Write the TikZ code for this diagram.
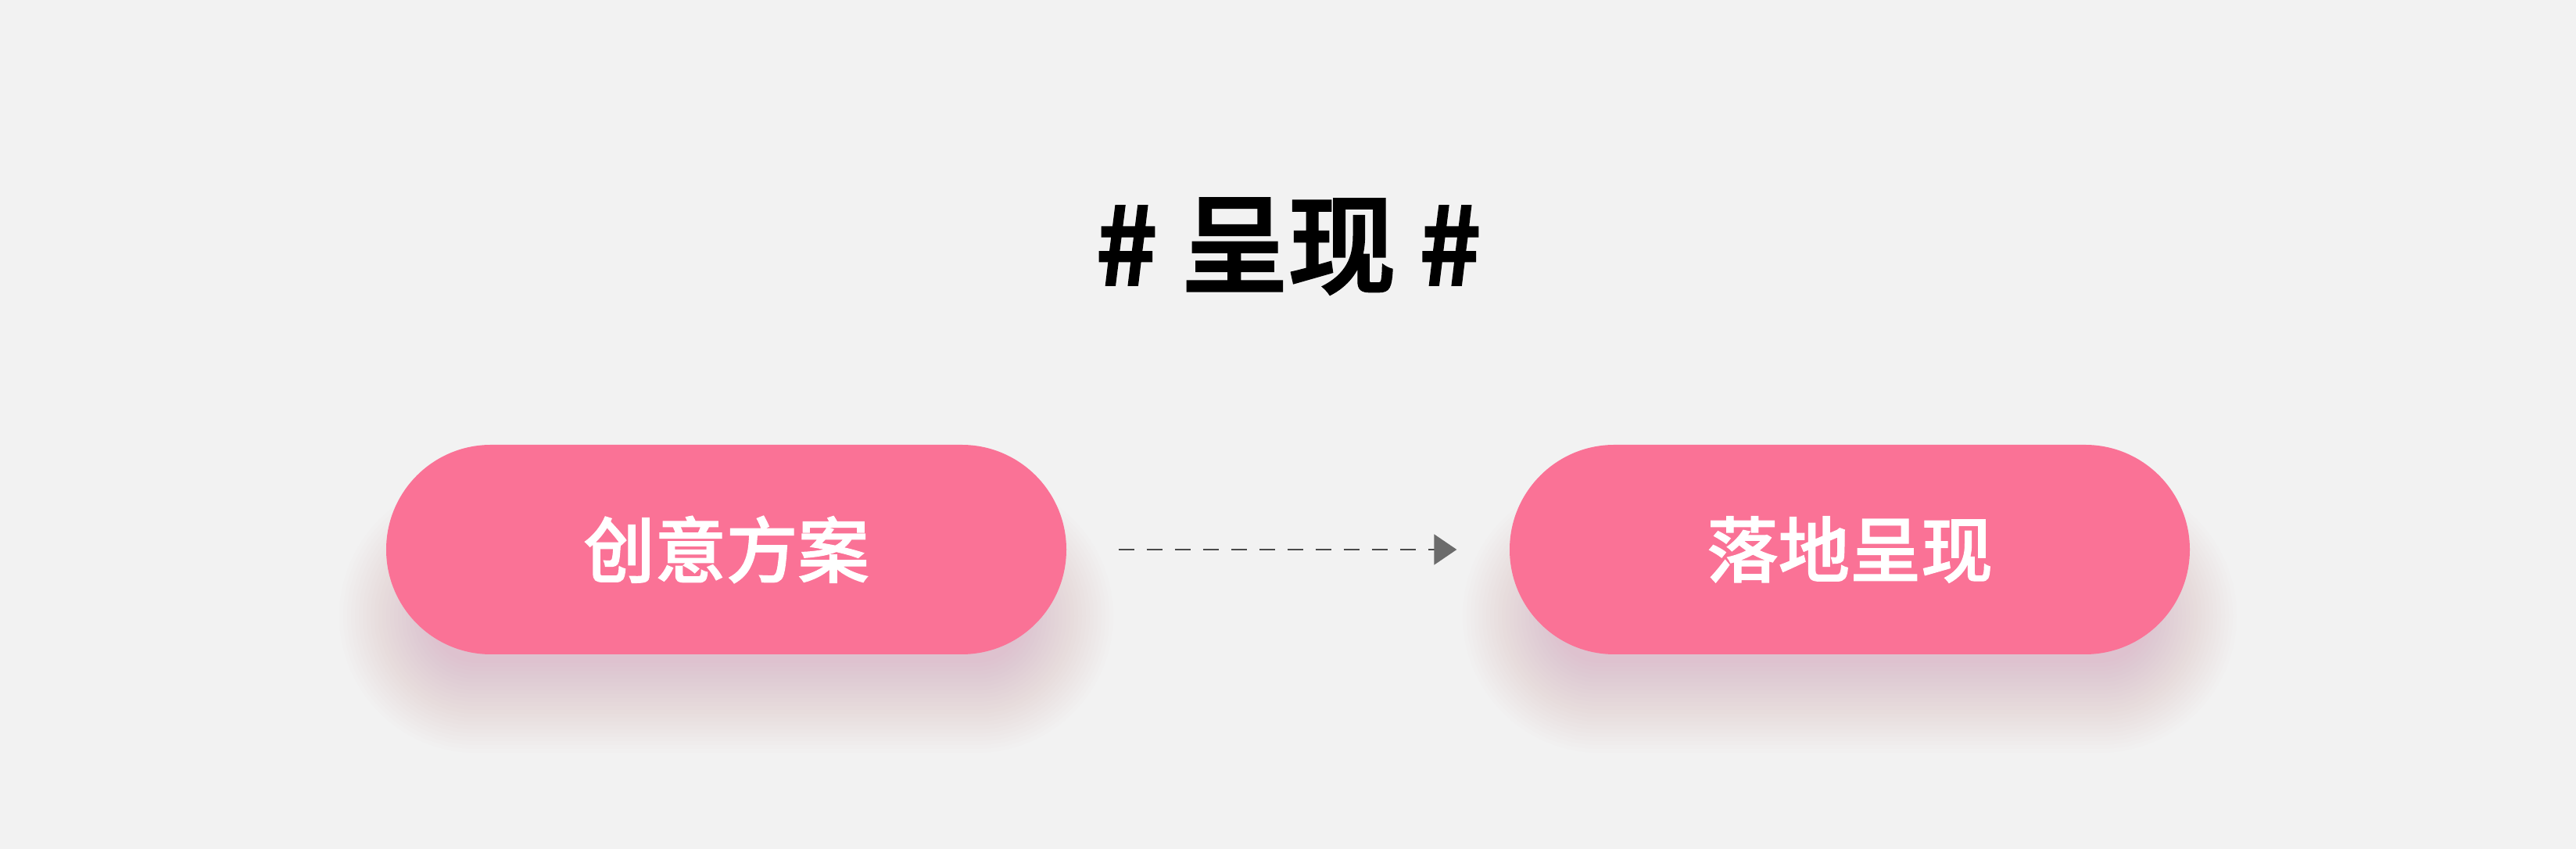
\documentclass[tikz,border=0pt]{standalone}
\usepackage{fontspec}
\usepackage{xcolor}
\newfontfamily\cjk[FakeBold=1.3]{Noto Sans CJK SC Medium}
\newfontfamily\cjktitle[FakeBold=2.6]{Noto Sans CJK SC Medium}
\usetikzlibrary{arrows.meta,calc}

\definecolor{bggray}{HTML}{F2F2F2}
\definecolor{pillpink}{HTML}{FA7296}
\definecolor{shadowpink}{RGB}{222,128,158}
\definecolor{dashgray}{HTML}{4A4A4A}
\definecolor{headgray}{HTML}{6B6B6B}

\tikzset{
  pill/.style={rectangle, rounded corners=1.34cm, fill=pillpink,
    minimum width=8.7cm, minimum height=2.68cm, inner sep=0pt,
    text=white, font=\cjk\fontsize{26}{26}\selectfont},
}

\begin{document}
\begin{tikzpicture}
    % Background and size of the page:
    \fill [bggray] (0,0) rectangle (32.95,10.86);
    \useasboundingbox (0,0) rectangle (32.95,10.86);

    % Centres of the two pills:
    \coordinate (c1) at (9.29,3.83);
    \coordinate (c2) at (23.66,3.83);

    % Soft pink shadows, drawn as stacked transparent pills:
    \foreach \c in {c1,c2}{%
        \foreach \r in {0,0.05,...,1.2}{%
            \pgfmathsetmacro\rad{0.6+\r}
            \fill [shadowpink, opacity=0.015, rounded corners=\rad cm]
                ($(\c)+(-3.8-\r,-0.85-\rad)$) rectangle ($(\c)+(3.8+\r,-0.85+\rad)$);
        }
    }

    % Title:
    \node (title) at (16.48,7.71) {\cjktitle\fontsize{39}{39}\selectfont \# 呈现 \#};

    % The two pills:
    \node [pill] (idea) at (c1) {创意方案};
    \node [pill] (impl) at (c2) {落地呈现};

    % Dashed arrow between them:
    \draw [dashgray, line width=0.02cm, dash pattern=on 0.2cm off 0.16cm,
        -{Triangle[length=0.29cm,width=0.39cm,color=headgray]},
        shorten <=0.66cm, shorten >=0.67cm] (idea.east) -- (impl.west);
\end{tikzpicture}
\end{document}
